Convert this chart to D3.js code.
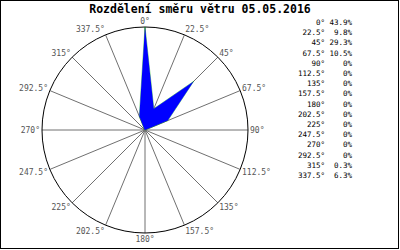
<!DOCTYPE html>
<html>
<head>
<meta charset="utf-8">
<script src="https://cdn.jsdelivr.net/npm/d3@7"></script>
<style>
  body { margin: 0; background: #fff; }
  text { font-family: "DejaVu Sans Mono", monospace; }
</style>
</head>
<body>
<div id="chart"></div>
<script>
// directions and share of wind (%)
const directions = [0, 22.5, 45, 67.5, 90, 112.5, 135, 157.5, 180, 202.5, 225, 247.5, 270, 292.5, 315, 337.5];
const shares = [43.9, 9.8, 29.3, 10.5, 0, 0, 0, 0, 0, 0, 0, 0, 0, 0, 0.3, 6.3];
const title = "Rozdělení směru větru 05.05.2016";

const W = 400, H = 250;
const cx = 145, cy = 130, R = 103;

const svg = d3.select("#chart")
  .append("svg")
  .attr("width", W)
  .attr("height", H);

// frame
svg.append("rect")
  .attr("x", 0.5).attr("y", 0.5)
  .attr("width", 398).attr("height", 248)
  .attr("fill", "#fff")
  .attr("stroke", "#000");

svg.append("text")
  .attr("x", 200).attr("y", 13)
  .attr("text-anchor", "middle")
  .style("font-size", "11.5px")
  .style("font-weight", "bold")
  .text(title);

const g = svg.append("g")
  .attr("transform", `translate(${cx},${cy})`);

const ang = d3.scaleLinear().domain([0, 360]).range([0, 2 * Math.PI]);
const r = d3.scaleLinear().domain([0, d3.max(shares)]).range([0, R]);

// spokes
g.selectAll("line.spoke")
  .data(directions)
  .join("line")
  .attr("class", "spoke")
  .attr("x1", 0).attr("y1", 0)
  .attr("x2", d => R * Math.sin(ang(d)))
  .attr("y2", d => -R * Math.cos(ang(d)))
  .attr("stroke", "#707070")
  .attr("stroke-width", 1);

g.append("circle")
  .attr("r", R)
  .attr("fill", "none")
  .attr("stroke", "#000");

// wind rose polygon
const rose = d3.lineRadial()
  .angle((d, i) => ang(directions[i]))
  .radius(d => r(d))
  .curve(d3.curveLinearClosed);

g.append("path")
  .attr("d", rose(shares))
  .attr("fill", "none")
  .attr("stroke", "#00b000")
  .attr("stroke-width", 0.5);

g.append("path")
  .attr("d", rose(shares))
  .attr("fill", "#0000ff");

// direction labels
const fmt = d => d + "°";
g.selectAll("text.dir")
  .data(directions)
  .join("text")
  .attr("class", "dir")
  .attr("x", d => (R + 2) * Math.sin(ang(d)))
  .attr("y", d => -(R + 6) * Math.cos(ang(d)))
  .attr("dy", "0.35em")
  .attr("text-anchor", d => {
    const s = Math.sin(ang(d));
    return s > 0.01 ? "start" : (s < -0.01 ? "end" : "middle");
  })
  .attr("fill", "#555")
  .style("font-size", "8px")
  .text(fmt);

// legend table
const leg = svg.append("g");
leg.selectAll("text.ld")
  .data(directions)
  .join("text")
  .attr("class", "ld")
  .attr("x", 325)
  .attr("y", (d, i) => 25 + i * 10.2)
  .attr("text-anchor", "end")
  .style("font-size", "7.5px")
  .text(fmt);

leg.selectAll("text.lv")
  .data(shares)
  .join("text")
  .attr("class", "lv")
  .attr("x", 352)
  .attr("y", (d, i) => 25 + i * 10.2)
  .attr("text-anchor", "end")
  .style("font-size", "7.5px")
  .text(d => d + "%");
</script>
</body>
</html>
